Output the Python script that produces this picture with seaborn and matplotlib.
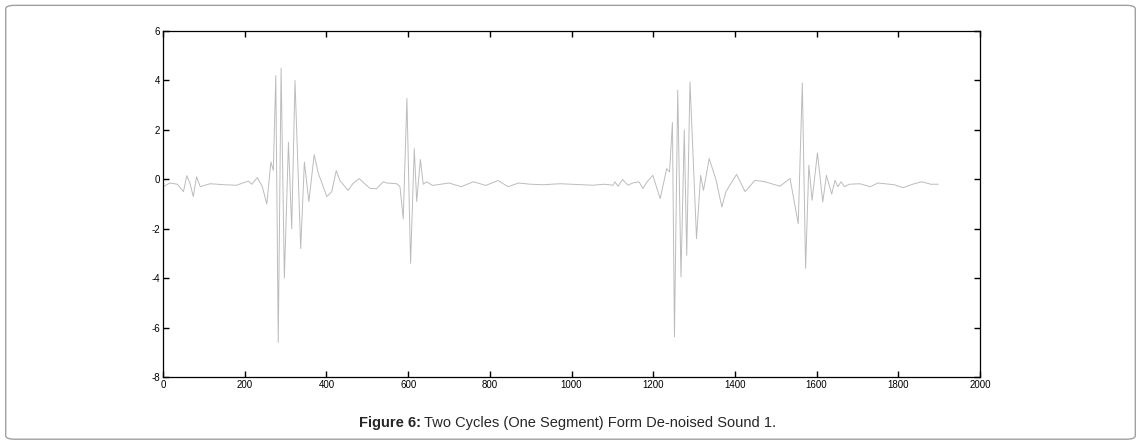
import numpy as np
import pandas as pd
import seaborn as sns
import matplotlib.pyplot as plt
from matplotlib.patches import FancyBboxPatch

# Отсчёты сигнала
sample = [0, 17, 35, 50, 58, 66, 74, 82, 91, 115, 150, 180, 209, 217, 231, 243,
          254, 264, 270, 276, 282, 289, 297, 307, 315, 323, 337, 346, 357, 370,
          380, 401, 413, 424, 433, 453, 465, 480, 495, 507, 523, 539, 548, 572,
          580, 588, 597, 606, 615, 621, 630, 637, 645, 660, 680, 700, 730, 760,
          790, 820, 845, 870, 900, 930, 972, 1000, 1053, 1080, 1102, 1106, 1114,
          1125, 1138, 1150, 1165, 1175, 1185, 1199, 1217, 1233, 1240, 1247, 1252,
          1260, 1268, 1276, 1282, 1290, 1306, 1316, 1323, 1337, 1354, 1368, 1378,
          1404, 1425, 1449, 1474, 1510, 1535, 1555, 1565, 1573, 1581, 1589, 1602,
          1615, 1624, 1637, 1645, 1652, 1660, 1668, 1680, 1706, 1731, 1750, 1767,
          1790, 1812, 1835, 1857, 1880, 1898]
amplitude = [-0.3, -0.15, -0.2, -0.5, 0.15, -0.17, -0.7, 0.1, -0.3, -0.18, -0.22,
             -0.24, -0.07, -0.2, 0.07, -0.3, -1.0, 0.7, 0.36, 4.2, -6.6, 4.5, -4.0,
             1.5, -2.0, 4.0, -2.8, 0.7, -0.9, 1.0, 0.25, -0.7, -0.5, 0.35, -0.05,
             -0.45, -0.17, 0.03, -0.2, -0.37, -0.38, -0.1, -0.15, -0.18, -0.3, -1.6,
             3.27, -3.4, 1.24, -0.9, 0.8, -0.2, -0.1, -0.25, -0.2, -0.15, -0.3, -0.1,
             -0.25, -0.05, -0.3, -0.15, -0.2, -0.22, -0.18, -0.2, -0.24, -0.2, -0.24,
             -0.1, -0.28, -0.01, -0.24, -0.15, -0.1, -0.37, -0.1, 0.16, -0.78, 0.43,
             0.3, 2.3, -6.38, 3.6, -3.95, 2.0, -3.08, 3.94, -2.4, 0.16, -0.45, 0.84,
             -0.04, -1.12, -0.5, 0.2, -0.5, -0.04, -0.1, -0.28, 0.03, -1.8, 3.9,
             -3.6, 0.57, -0.85, 1.07, -0.92, 0.16, -0.6, -0.04, -0.3, -0.1, -0.3,
             -0.2, -0.18, -0.3, -0.15, -0.18, -0.22, -0.34, -0.2, -0.1, -0.2,
             -0.2]
xticks = [0, 200, 400, 600, 800, 1000, 1200, 1400, 1600, 1800, 2000]
yticks = [-8, -6, -4, -2, 0, 2, 4, 6]

df = pd.DataFrame({'sample': sample, 'amplitude': amplitude})

sns.set_style('ticks')
plt.rcParams['font.family'] = ['Liberation Sans', 'DejaVu Sans']
plt.rcParams['axes.unicode_minus'] = False

fig = plt.figure(figsize=(11.41, 4.45), dpi=100)
ax = fig.add_axes([0.1429, 0.1528, 0.716, 0.7775])

sns.lineplot(data=df, x='sample', y='amplitude', ax=ax, color='#bcbcbc',
             linewidth=0.7, estimator=None, sort=False)

ax.set_xlim(0, 2000)
ax.set_ylim(-8, 6)
ax.set_xticks(xticks)
ax.set_yticks(yticks)
ax.set_xlabel('')
ax.set_ylabel('')
ax.tick_params(direction='in', length=4, width=1, labelsize=7, pad=2,
               top=True, right=True, colors='black')
for s in ax.spines.values():
    s.set_color('black')
    s.set_linewidth(0.9)

# рамка и подпись
fig.patches.append(FancyBboxPatch((0.005, 0.013), 0.99, 0.975,
                                  boxstyle='round,pad=0,rounding_size=0.008',
                                  transform=fig.transFigure, fill=False,
                                  edgecolor='#a0a0a0', linewidth=1))
fig.text(421 / 1141, 0.049, 'Figure 6:', ha='right', va='center',
         fontsize=10.5, fontweight='bold')
fig.text(424 / 1141, 0.049, 'Two Cycles (One Segment) Form De-noised Sound 1.',
         ha='left', va='center', fontsize=10.5)

fig.savefig('out.png', dpi=100)
